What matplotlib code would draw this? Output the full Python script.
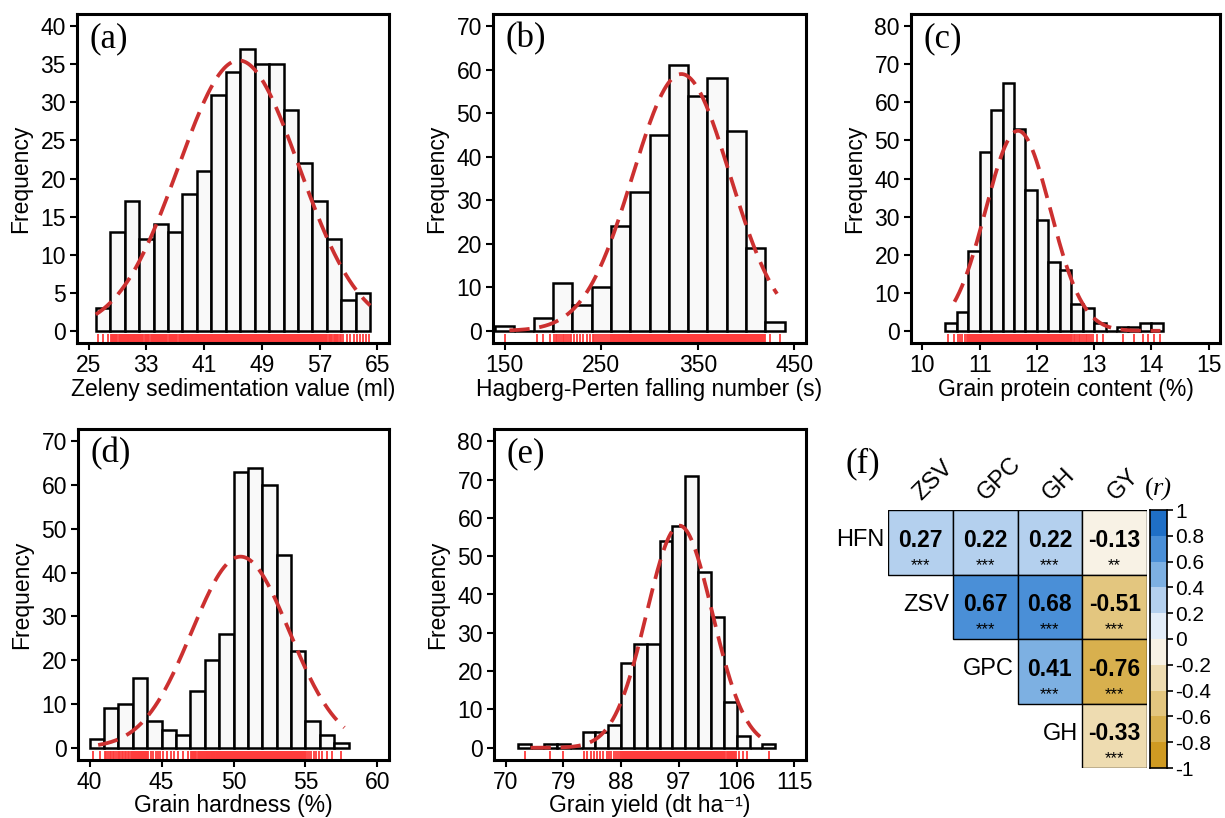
import numpy as np
import matplotlib
matplotlib.use("Agg")
import matplotlib.pyplot as plt
import matplotlib.transforms as mtransforms
from matplotlib.patches import Rectangle

plt.rcParams["font.family"] = ["Liberation Sans", "DejaVu Sans"]
plt.rcParams["axes.unicode_minus"] = False

# ================================
# Data
# ================================

# (a) Zeleny sedimentation value
zsv_start, zsv_width = 26, 2
zsv_counts = [3, 13, 17, 12, 14, 13, 18, 21, 31, 34, 37, 35, 35, 29, 22, 17, 12, 4, 5]
zsv_xticks = [25, 33, 41, 49, 57, 65]
zsv_yticks = [0, 5, 10, 15, 20, 25, 30, 35, 40]
zsv_fit = [45.8, 8.36, 26.0, 64.0]  # mean, sd, curve from, curve to

# (b) Hagberg-Perten falling number
hfn_start, hfn_width = 140, 20
hfn_counts = [1, 0, 3, 11, 6, 10, 24, 32, 45, 61, 54, 58, 46, 19, 2]
hfn_xticks = [150, 250, 350, 450]
hfn_yticks = [0, 10, 20, 30, 40, 50, 60, 70]
hfn_fit = [333.0, 50.3, 155.0, 432.0]

# (c) Grain protein content
gpc_start, gpc_width = 10.4, 0.2
gpc_counts = [2, 5, 21, 47, 58, 65, 53, 37, 29, 18, 16, 7, 6, 2, 0, 1, 1, 2, 2]
gpc_xticks = [10, 11, 12, 13, 14, 15]
gpc_yticks = [0, 10, 20, 30, 40, 50, 60, 70, 80]
gpc_fit = [11.67, 0.565, 10.56, 14.16]

# (d) Grain hardness
gh_start, gh_width = 40, 1
gh_counts = [2, 9, 10, 16, 6, 4, 3, 13, 20, 26, 63, 64, 60, 44, 22, 6, 3, 1]
gh_xticks = [40, 45, 50, 55, 60]
gh_yticks = [0, 10, 20, 30, 40, 50, 60, 70]
gh_fit = [50.49, 3.40, 40.6, 57.7]

# (e) Grain yield
gy_start, gy_width = 72, 2
gy_counts = [1, 0, 1, 1, 0, 4, 4, 6, 22, 27, 27, 54, 58, 71, 46, 34, 12, 3, 0, 1]
gy_xticks = [70, 79, 88, 97, 106, 115]
gy_yticks = [0, 10, 20, 30, 40, 50, 60, 70, 80]
gy_fit = [97.1, 5.12, 73.9, 110.8]

# (f) correlations
row_labels = ["HFN", "ZSV", "GPC", "GH"]
col_labels = ["ZSV", "GPC", "GH", "GY"]
corr = np.array([
    [0.27, 0.22, 0.22, -0.13],
    [np.nan, 0.67, 0.68, -0.51],
    [np.nan, np.nan, 0.41, -0.76],
    [np.nan, np.nan, np.nan, -0.33],
])
stars = [
    ["***", "***", "***", "**"],
    ["", "***", "***", "***"],
    ["", "", "***", "***"],
    ["", "", "", "***"],
]
cbar_colors = [  # from -1 to 1, steps of 0.2
    "#cf9a22", "#d8b04e", "#e3c67f", "#eedcb1", "#f8f2e5",
    "#e3edf8", "#b4d0ee", "#7db0e2", "#4a8fd7", "#1f6fc6",
]

HIST_FILL = "#f9f9f9"
CURVE_COLOR = "#cc3030"
RUG_COLOR = "#ff3c3c"
FS = 16.5
W, H = 1225, 818


def px_axes(fig, left, top, right, bottom):
    return fig.add_axes([left / W, 1 - bottom / H, (right - left) / W, (bottom - top) / H])


def r_lim(lo, hi):
    d = (hi - lo) * 0.04
    return lo - d, hi + d


def hist_panel(ax, start, width, counts, xticks, yticks, fit, xlabel, tag, label_y):
    counts = np.asarray(counts)
    edges = start + width * np.arange(len(counts) + 1)
    ax.bar(edges[:-1], counts, width=width, align="edge",
           color=HIST_FILL, edgecolor="black", linewidth=1.8, zorder=2)

    # rug: observations spread evenly inside each bin
    obs = []
    for lo, n in zip(edges[:-1], counts):
        obs.extend(lo + (np.arange(n) + 0.5) / max(n, 1) * width)
    trans = mtransforms.blended_transform_factory(ax.transData, ax.transAxes)
    ax.vlines(obs, 0.004, 0.028, transform=trans, color=RUG_COLOR, lw=1.3, zorder=1)

    # fitted normal curve
    mu, sd, x0, x1 = fit
    xs = np.linspace(x0, x1, 300)
    ys = counts.sum() * width / (sd * np.sqrt(2 * np.pi)) * np.exp(-0.5 * ((xs - mu) / sd) ** 2)
    ax.plot(xs, ys, color=CURVE_COLOR, lw=2.7, linestyle=(0, (5.4, 2.6)), zorder=3)

    ax.set_xlim(*r_lim(xticks[0], xticks[-1]))
    ax.set_ylim(*r_lim(yticks[0], yticks[-1]))
    ax.set_xticks(xticks)
    ax.set_yticks(yticks)
    ax.tick_params(labelsize=FS, length=5, width=1.5, pad=3)
    for s in ax.spines.values():
        s.set_linewidth(2.2)
    ax.set_xlabel(xlabel, fontsize=FS, va="baseline")
    ax.xaxis.set_label_coords(0.5, label_y)
    ax.set_ylabel("Frequency", fontsize=FS, labelpad=6)
    ax.text(0.04, 0.975, tag, transform=ax.transAxes, ha="left", va="top",
            fontsize=25, family="Liberation Serif")


fig = plt.figure(figsize=(W / 100, H / 100), dpi=100)

ax_a = px_axes(fig, 77, 14, 389, 343)
hist_panel(ax_a, zsv_start, zsv_width, zsv_counts, zsv_xticks, zsv_yticks, zsv_fit,
           "Zeleny sedimentation value (ml)", "(a)", -0.160)
ax_b = px_axes(fig, 493, 14, 806, 343)
hist_panel(ax_b, hfn_start, hfn_width, hfn_counts, hfn_xticks, hfn_yticks, hfn_fit,
           "Hagberg-Perten falling number (s)", "(b)", -0.160)
ax_c = px_axes(fig, 911, 14, 1220, 343)
hist_panel(ax_c, gpc_start, gpc_width, gpc_counts, gpc_xticks, gpc_yticks, gpc_fit,
           "Grain protein content (%)", "(c)", -0.160)
ax_d = px_axes(fig, 78, 429, 389, 760)
hist_panel(ax_d, gh_start, gh_width, gh_counts, gh_xticks, gh_yticks, gh_fit,
           "Grain hardness (%)", "(d)", -0.158)
ax_e = px_axes(fig, 494, 429, 806, 760)
hist_panel(ax_e, gy_start, gy_width, gy_counts, gy_xticks, gy_yticks, gy_fit,
           "Grain yield (dt ha\u207b\u00b9)", "(e)", -0.158)

# ================================
# (f) correlation triangle
# ================================
ax_f = px_axes(fig, 888, 510, 1147, 768)
ax_f.set_xlim(0, 4)
ax_f.set_ylim(4, 0)
ax_f.set_axis_off()
bounds = np.linspace(-1, 1, 11)
for i in range(4):
    for j in range(4):
        v = corr[i, j]
        if np.isnan(v):
            continue
        k = min(int(np.searchsorted(bounds, v, side="right")) - 1, 9)
        ax_f.add_patch(Rectangle((j, i), 1, 1, facecolor=cbar_colors[k],
                                 edgecolor="black", lw=1.0))
        ax_f.text(j + 0.5, i + 0.47, f"{v:.2f}", ha="center", va="center",
                  fontsize=16.5, fontweight="bold")
        ax_f.text(j + 0.5, i + 0.86, stars[i][j], ha="center", va="center", fontsize=12)
    ax_f.text(i - 0.06, i + 0.47, row_labels[i], ha="right", va="center",
              fontsize=17, clip_on=False)
for j, lab in enumerate(col_labels):
    ax_f.text(j + 0.57, -0.08, lab, rotation=45, rotation_mode="anchor",
              ha="left", va="bottom", fontsize=17, clip_on=False)
ax_f.text(-0.65, -0.72, "(f)", ha="left", va="center", fontsize=25,
          family="Liberation Serif", clip_on=False)

# colour bar
ax_cb = px_axes(fig, 1150, 510, 1167, 768)
for k, c in enumerate(cbar_colors):
    ax_cb.add_patch(Rectangle((0, bounds[k]), 1, 0.2, facecolor=c, edgecolor="none"))
ax_cb.set_xlim(0, 1)
ax_cb.set_ylim(-1, 1)
ax_cb.set_xticks([])
ax_cb.yaxis.tick_right()
ax_cb.set_yticks(bounds)
ax_cb.set_yticklabels(["-1", "-0.8", "-0.6", "-0.4", "-0.2", "0",
                       "0.2", "0.4", "0.6", "0.8", "1"])
ax_cb.tick_params(labelsize=15, length=4, width=1.2, pad=2)
for s in ax_cb.spines.values():
    s.set_linewidth(1.2)
ax_cb.text(0.2, 1.035, "(", transform=ax_cb.transAxes, ha="right", va="bottom",
           fontsize=19, family="Liberation Serif")
ax_cb.text(0.2, 1.035, "r)", transform=ax_cb.transAxes, ha="left", va="bottom",
           fontsize=19, family="Liberation Serif", style="italic")

fig.savefig("out.png", dpi=100)
